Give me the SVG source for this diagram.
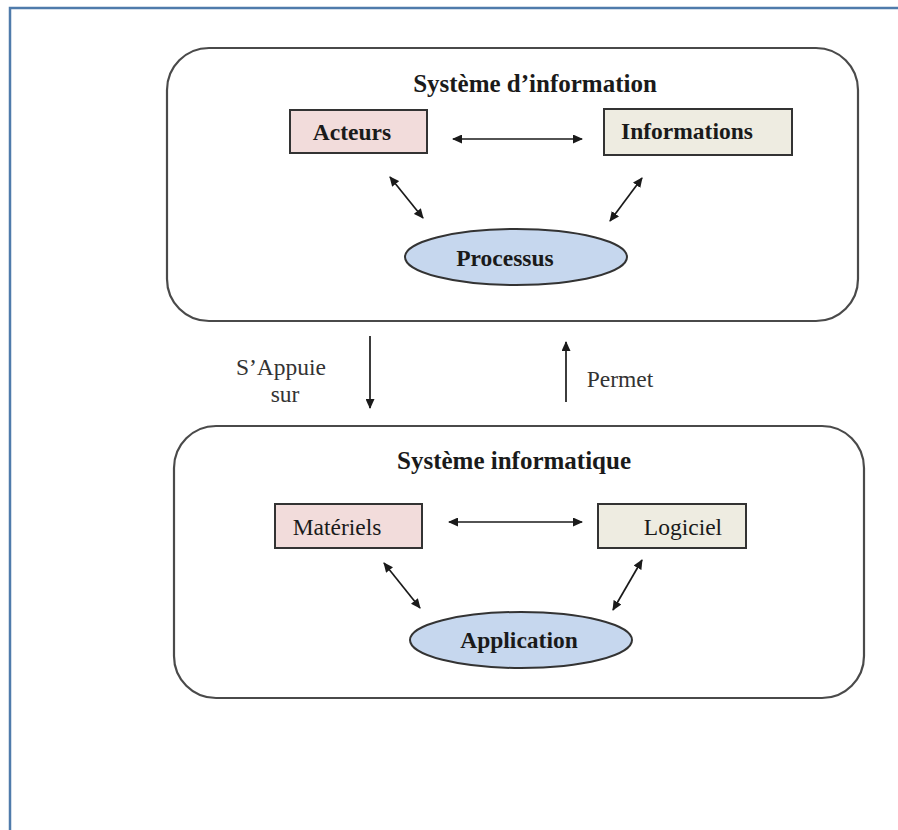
<svg xmlns="http://www.w3.org/2000/svg" width="898" height="830" viewBox="0 0 898 830">
  <style>
    .frame { fill: none; stroke: #4f7bab; stroke-width: 2.5; }
    .group { fill: #ffffff; stroke: #4a4a4a; stroke-width: 2.2; }
    .box { stroke: #333333; stroke-width: 2; }
    .pink { fill: #f2dcdb; }
    .beige { fill: #eeece1; }
    .oval { fill: #c6d7ee; stroke: #333333; stroke-width: 2; }
    .title { font-family: "Liberation Serif", "Times New Roman", serif; font-weight: bold; font-size: 25px; fill: #1a1a1a; text-anchor: middle; }
    .label { font-family: "Liberation Serif", "Times New Roman", serif; font-size: 23.5px; fill: #1a1a1a; text-anchor: middle; }
    .bold { font-weight: bold; }
    .note { font-family: "Liberation Serif", "Times New Roman", serif; font-size: 23.5px; fill: #333333; text-anchor: middle; }
    .conn { stroke: #1a1a1a; stroke-width: 1.7; fill: none; }
  </style>
  <defs>
    <marker id="head" viewBox="0 0 10 10" refX="9" refY="5" markerWidth="10" markerHeight="9" markerUnits="userSpaceOnUse" orient="auto-start-reverse" preserveAspectRatio="none">
      <path d="M0,0 L10,5 L0,10 z" fill="#1a1a1a"/>
    </marker>
  </defs>

  <rect width="898" height="830" fill="#ffffff"/>
  <!-- page frame: top and left edges -->
  <path class="frame" d="M10,830 L10,8 L898,8"/>

  <!-- information system -->
  <g id="systeme-information">
    <rect class="group" x="167" y="48" width="691" height="273" rx="42" ry="42"/>
    <text class="title" x="535" y="92">Système d’information</text>
  </g>
  <g id="acteurs">
    <rect class="box pink" x="290" y="110" width="137" height="43"/>
    <text class="label bold" x="352" y="140">Acteurs</text>
  </g>
  <g id="informations">
    <rect class="box beige" x="604" y="109" width="188" height="46"/>
    <text class="label bold" x="687" y="139">Informations</text>
  </g>
  <g id="processus">
    <ellipse class="oval" cx="516" cy="257" rx="111" ry="28"/>
    <text class="label bold" x="505" y="266">Processus</text>
  </g>

  <!-- computer system -->
  <g id="systeme-informatique">
    <rect class="group" x="174" y="426" width="690" height="272" rx="42" ry="42"/>
    <text class="title" x="514" y="469">Système informatique</text>
  </g>
  <g id="materiels">
    <rect class="box pink" x="275" y="504" width="147" height="44"/>
    <text class="label" x="337" y="535">Matériels</text>
  </g>
  <g id="logiciel">
    <rect class="box beige" x="598" y="504" width="148" height="44"/>
    <text class="label" x="683" y="535">Logiciel</text>
  </g>
  <g id="application">
    <ellipse class="oval" cx="521" cy="640" rx="111" ry="28"/>
    <text class="label bold" x="519" y="648">Application</text>
  </g>

  <!-- labels between the two systems -->
  <g id="labels">
    <text class="note" x="281" y="375">S’Appuie</text>
    <text class="note" x="285" y="402">sur</text>
    <text class="note" x="620" y="387">Permet</text>
  </g>

  <g id="connectors">
    <line class="conn" x1="453" y1="139" x2="582" y2="139" marker-start="url(#head)" marker-end="url(#head)"/>
    <line class="conn" x1="390" y1="177" x2="423" y2="218" marker-start="url(#head)" marker-end="url(#head)"/>
    <line class="conn" x1="642" y1="178" x2="610" y2="221" marker-start="url(#head)" marker-end="url(#head)"/>
    <line class="conn" x1="449" y1="522" x2="582" y2="522" marker-start="url(#head)" marker-end="url(#head)"/>
    <line class="conn" x1="384" y1="563" x2="420" y2="608" marker-start="url(#head)" marker-end="url(#head)"/>
    <line class="conn" x1="642" y1="560" x2="613" y2="610" marker-start="url(#head)" marker-end="url(#head)"/>
    <line class="conn" x1="370" y1="336" x2="370" y2="408" marker-end="url(#head)"/>
    <line class="conn" x1="566" y1="402" x2="566" y2="342" marker-end="url(#head)"/>
  </g>
</svg>
